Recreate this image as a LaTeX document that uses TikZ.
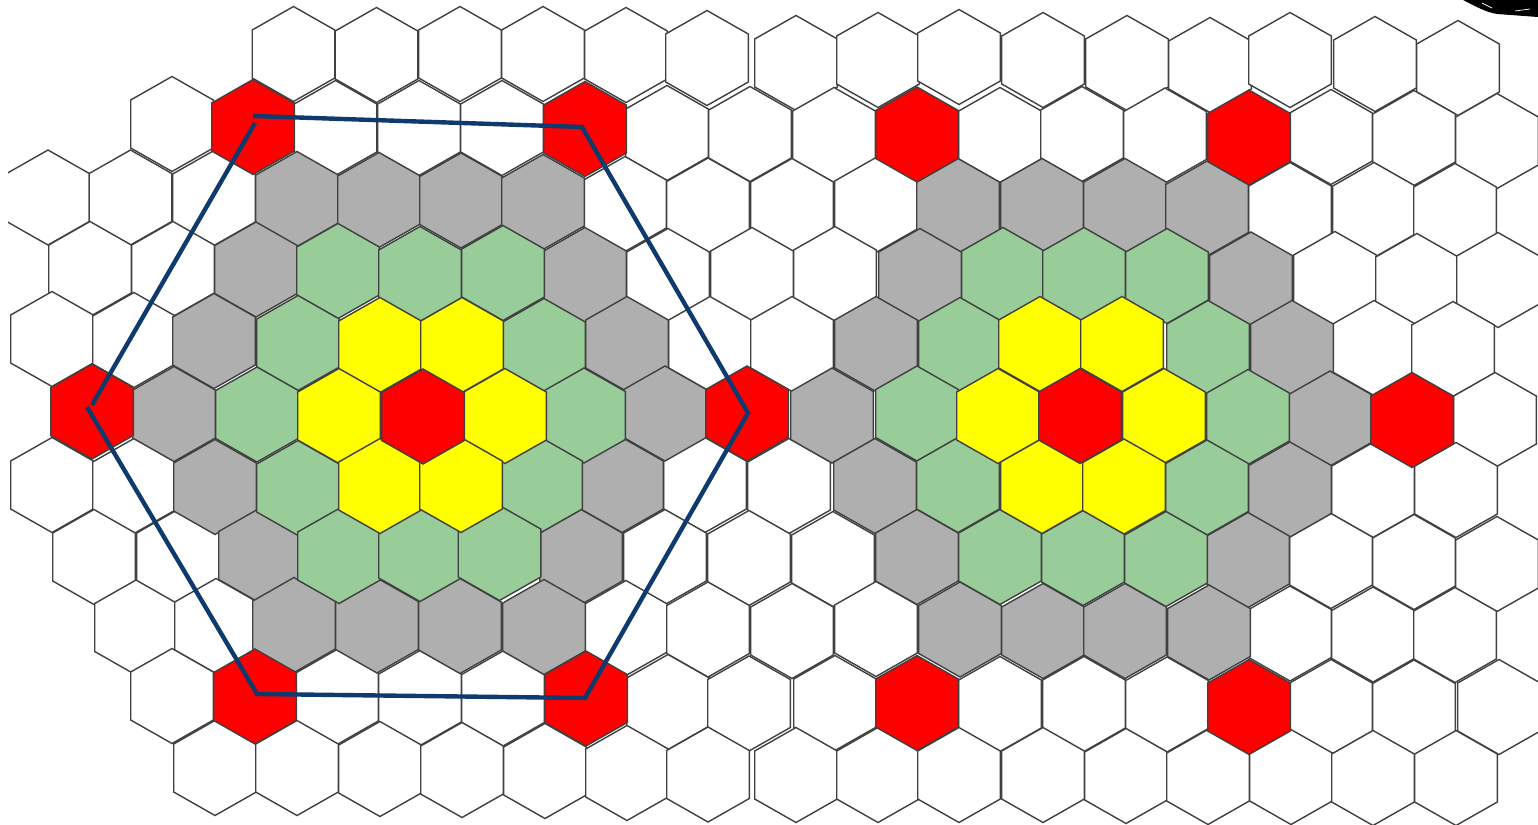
\documentclass[tikz,border=0pt]{standalone}
\definecolor{cellline}{HTML}{404040}
\definecolor{cellgray}{HTML}{AFAFAF}
\definecolor{cellgreen}{HTML}{98CC98}
\definecolor{cellyellow}{HTML}{FFFF00}
\definecolor{cellred}{HTML}{FF0000}
\definecolor{clusternavy}{HTML}{0F3A6E}
\newcommand{\hexcell}[3]{\path[#3] (#1-41.3,#2-24)--(#1,#2-47.5)--(#1+41.3,#2-24)--(#1+41.3,#2+24)--(#1,#2+47.5)--(#1-41.3,#2+24)--cycle;}
\tikzset{
  plainhex/.style={draw=cellline,line width=1.4pt,line join=miter,fill=white},
  grayhex/.style={plainhex,fill=cellgray},
  greenhex/.style={plainhex,fill=cellgreen},
  yellowhex/.style={plainhex,fill=cellyellow},
  redhex/.style={plainhex,fill=cellred},
  clusterline/.style={draw=clusternavy,line width=4.4pt,line join=miter}
}
\begin{document}
\begin{tikzpicture}[x=1pt,y=-1pt]
\useasboundingbox (0,0) rectangle (1538,824);
\fill[white] (0,0) rectangle (1538,824);
\begin{scope}
\clip (8,0) rectangle (1538,824);
\foreach \x/\y in {293.5/54,376.5/55,460/54,543/54,626/55,707/58,796/63,878/60,959/57,1043/60,1127/63,1210/65,1290/60,1375/64,1458/68,
172/124,335.5/128,419/128,502/128,667/133,750/134,834/135,1000/135,1082/134,1165/135.5,1331/137,1414/138,1497/141,
48/197.5,130.5/197.5,214/198,625/204,708/205.5,792/206,876/205,1290/210,1374/210,1455/211,
90/269,173/269,668/276,752/275,835/274,1335/279,1417/281,1498/280,
52/339,134/340,710/344,792/344,1374/348,1453/349,
1495/420,
52/485,134/486,705/485,789/486,1373/490,1456/490,
94/557,178/557,665/557,749/558,833/559,1331/561,1414/562,1497/564,
136/627.5,216/626,626/628,708/629.5,792/631,876/629,1290/633.5,1373/634.5,1455/635,
172/696,337/697,420/698,503/698.5,668/702,749/703.5,835/703,1000/704,1084/704,1167/704.5,1331/707,1414/707.5,1499/707,
215/768,297/768,380/769,462/770,545/771,627/773,708/774.5,796/775,878/775,959/775,1043/775,1126/776,1208/777,1291/777,1373/778,1456/778}
  {\hexcell{\x}{\y}{plainhex}}
\foreach \x/\y in {297/199,379/200,461/200.5,543/202,958/206,1042/206,1125/206,1207/208.5,
256/269.5,585/275,920/276,1251/279.5,
214/341,627/344,876/344,1292/348,
174/414,665/413.5,832/415.5,1330/418.5,
215/487,622/485,875/486,1290/489.5,
260/555.5,581/557,917/557,1248/560,
294/625,377/625.5,460/626,544/627,960/629.5,1043/631,1125/631,1209/632.5}
  {\hexcell{\x}{\y}{grayhex}}
\foreach \x/\y in {338/271,420/274,503/273,1003/275,1084/275,1167/276,
298/343,544/346,960/345,1208/348,
257/414.5,584/415.5,917/413.5,1248/417,
298/488,541/485,958/485,1207/487.5,
339/556,420/554,499.5/553,1000/557,1083/558,1166/559}
  {\hexcell{\x}{\y}{greenhex}}
\foreach \x/\y in {380/345,462/345,339/416,505/416,380/486,461/485,1040/344,1122/344,998/416,1164/416,1042/486,1124/486.5}
  {\hexcell{\x}{\y}{yellowhex}}
\foreach \x/\y in {253/127,585/129,917/134.5,1249/137.5,92/411.5,423/416.5,747/413.5,1080/416,1412/420,255/696.5,586/698.5,917/703,1249/707}
  {\hexcell{\x}{\y}{redhex}}
\end{scope}
% navy cluster outline
\coordinate (tl) at (253,116);
\coordinate (tr) at (582,127);
\coordinate (ri) at (748,413);
\coordinate (br) at (585,698);
\coordinate (bl) at (257,694);
\coordinate (le) at (87,407);
\coordinate (lf) at (92,405);
\coordinate (tm) at (255,123);
\draw[clusterline] (tl) -- (tr) -- (ri) -- (br) -- (bl) -- (le);
\draw[clusterline] (lf) -- (tm);
% ink smudge in the top right corner
\fill[black] (1463,0) .. controls (1475,6) and (1485,12) .. (1497,14) -- (1538,17) -- (1538,0) -- cycle;
\draw[white,line width=0.7pt] (1482,3) -- (1492,8) (1515,11) -- (1530,9);
\end{tikzpicture}
\end{document}
